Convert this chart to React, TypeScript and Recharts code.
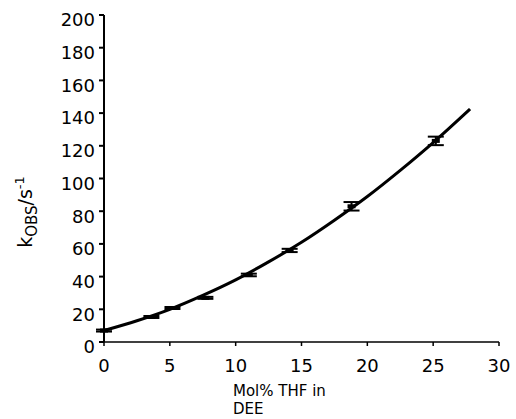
import React from 'react';
import { ComposedChart, Line, Scatter, ErrorBar, XAxis, YAxis } from 'recharts';

// measured points: mol% THF in DEE vs k_obs (s^-1), with error
const molPct = [0, 3.6, 5.2, 7.7, 11, 14.1, 18.8, 25.2];
const kObs = [7, 15.3, 20.8, 27, 41, 56, 83, 123];
const kErr = [0.6, 0.6, 0.6, 0.6, 0.8, 1, 2.6, 2.6];

// fitted curve
const fitX = [0, 2.5, 5, 7.5, 10, 12.5, 15, 17.5, 20, 22.5, 25, 27.8];
const fitY = [7, 13, 20, 28.5, 38, 49, 61, 74.5, 89, 105, 122, 142.5];

const xTicks = [0, 5, 10, 15, 20, 25, 30];
const yTicks = [0, 20, 40, 60, 80, 100, 120, 140, 160, 180, 200];

const points = molPct.map((x, i) => ({ x, y: kObs[i], err: kErr[i] }));
const fit = fitX.map((x, i) => ({ x, y: fitY[i] }));

const font = '"DejaVu Sans", Verdana, sans-serif';

const Dot = (props: any) => {
  const { cx, cy } = props;
  return <rect x={cx - 4} y={cy - 2} width={8} height={4} fill="#000" />;
};

export default function App() {
  return (
    <div style={{ position: 'absolute', left: 0, top: 0, background: '#fff' }}>
      <ComposedChart
        width={516}
        height={419}
        margin={{ top: 15, right: 17, bottom: 7, left: 0 }}
        style={{ fontFamily: font }}
      >
        <XAxis
          dataKey="x"
          type="number"
          domain={[0, 30]}
          ticks={xTicks}
          height={70}
          stroke="#000"
          strokeWidth={1.5}
          tickSize={4}
          tickMargin={13}
          tick={{ fontSize: 18, fill: '#000' }}
          label={{
            content: () => (
              <text x={233} fontSize={15} fill="#000" fontFamily={font}>
                <tspan x={233} y={396}>Mol% THF in</tspan>
                <tspan x={233} y={414}>DEE</tspan>
              </text>
            ),
          }}
        />
        <YAxis
          dataKey="y"
          type="number"
          domain={[0, 200]}
          ticks={yTicks}
          width={104}
          stroke="#000"
          strokeWidth={2}
          tickSize={5}
          tickMargin={4}
          tick={{ fontSize: 18, fill: '#000', dy: 5 }}
          label={{
            content: () => (
              <text
                transform="translate(32 212) rotate(-90)"
                textAnchor="middle"
                fontSize={19}
                fill="#000"
                fontFamily={font}
              >
                k<tspan fontSize={15} dy={5}>OBS</tspan>
                <tspan fontSize={19} dy={-5}>/s</tspan>
                <tspan fontSize={13} dy={-8}>-1</tspan>
              </text>
            ),
          }}
        />
        <Line
          data={fit}
          dataKey="y"
          type="monotone"
          stroke="#000"
          strokeWidth={3}
          dot={false}
          activeDot={false}
          isAnimationActive={false}
        />
        <Scatter data={points} dataKey="y" shape={<Dot />} isAnimationActive={false}>
          <ErrorBar dataKey="err" direction="y" width={8} stroke="#000" strokeWidth={2} />
        </Scatter>
      </ComposedChart>
    </div>
  );
}
